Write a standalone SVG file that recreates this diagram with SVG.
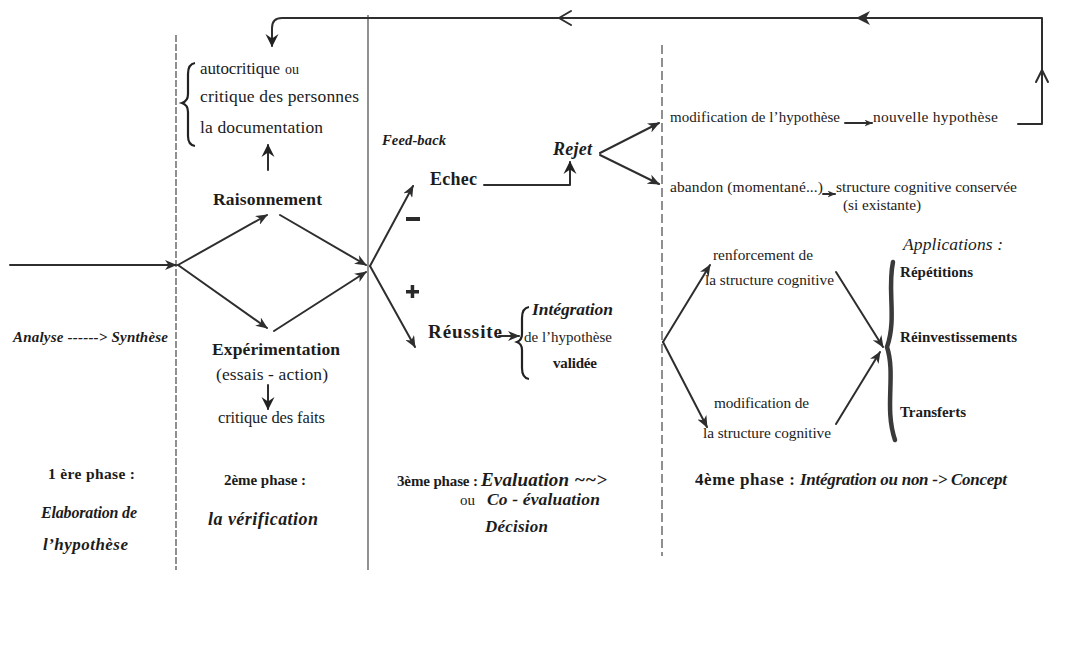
<svg xmlns="http://www.w3.org/2000/svg" width="1067" height="650" viewBox="0 0 1067 650">
  <style>
    text { font-family: "Liberation Serif", "DejaVu Serif", serif; fill: #1c1c1c; }
    .b { font-weight: bold; }
    .bi { font-weight: bold; font-style: italic; }
    .i { font-style: italic; }
    .ln { fill: none; stroke: #2e2e2e; stroke-width: 2; stroke-linecap: round; stroke-linejoin: round; }
    .arr { marker-end: url(#ah); }
    .arrb { marker-end: url(#ahb); }
    .div { fill: none; stroke: #555555; stroke-width: 1.3; }
  </style>
  <defs>
    <marker id="ah" viewBox="0 0 12 10" refX="11" refY="5" markerWidth="12" markerHeight="10" markerUnits="userSpaceOnUse" orient="auto">
      <path d="M0,0 L12,5 L0,10 L3.5,5 z" fill="#2e2e2e"/>
    </marker>
    <marker id="ahb" viewBox="0 0 12 12" refX="11" refY="6" markerWidth="13" markerHeight="14" markerUnits="userSpaceOnUse" orient="auto">
      <path d="M0,0 L12,6 L0,12 L4,6 z" fill="#222222"/>
    </marker>
    <marker id="ahs" viewBox="0 0 12 10" refX="11" refY="5" markerWidth="8" markerHeight="7" markerUnits="userSpaceOnUse" orient="auto">
      <path d="M0,0 L12,5 L0,10 L3.5,5 z" fill="#2e2e2e"/>
    </marker>
  </defs>

  <rect width="1067" height="650" fill="#ffffff"/>

  <!-- phase dividers -->
  <g id="dividers">
    <line class="div" x1="176" y1="35" x2="176" y2="570" stroke-dasharray="7 2"/>
    <line class="div" x1="368" y1="15" x2="368" y2="570"/>
    <line class="div" x1="662" y1="45" x2="662" y2="556" stroke-dasharray="9 4" stroke-width="1.6"/>
  </g>

  <!-- connectors -->
  <g id="connectors">
    <!-- feedback loop back to phase 2 -->
    <path class="ln arrb" d="M1018,124 H1042 V18 H282 Q272,18 272,28 V46"/>
    <path class="ln" d="M1036,82 L1042,70 L1048,82"/>
    <path class="ln" d="M571,11 L559,18 L571,25"/>
    <path d="M856,18 L870,11 L866,18 L870,25 z" fill="#2e2e2e"/>

    <!-- phase 1 -> phase 2 -->
    <path class="ln arr" d="M10,265 H176"/>
    <path class="ln arr" d="M178,265 L267,215"/>
    <path class="ln arr" d="M178,265 L267,328"/>
    <path class="ln arr" d="M280,215 L366,265"/>
    <path class="ln arr" d="M274,331 L366,272"/>
    <path class="ln arrb" d="M268,170 V145" stroke-width="2.6"/>
    <path class="ln arrb" d="M268,385 V409" stroke-width="2.6"/>

    <!-- phase 3 -->
    <path class="ln arr" d="M370,266 L413,186"/>
    <path class="ln arr" d="M370,266 L415,347"/>
    <path class="ln arrb" d="M484,185 H570 V162"/>
    <path class="ln arr" d="M600,153 L659,123"/>
    <path class="ln arr" d="M600,155 L659,184"/>
    <path class="ln arr" d="M499,336 H519"/>

    <!-- phase 4 -->
    <path class="ln" d="M845,123 H872" marker-end="url(#ahs)" stroke-width="1.5"/>
    <path class="ln" d="M823,194 H835" marker-end="url(#ahs)" stroke-width="1.5"/>
    <path class="ln arr" d="M663,342 L710,265"/>
    <path class="ln arr" d="M663,342 L707,427"/>
    <path class="ln arr" d="M836,272 L883,347"/>
    <path class="ln arr" d="M836,424 L880,352"/>
  </g>

  <!-- phase 2 : reasoning branch -->
  <g id="critique-personnes">
    <path d="M195,63 Q188,64 188,74 L188,94 Q188,101 182,103 Q188,105 188,112 L188,136 Q188,145 195,146" fill="none" stroke="#222" stroke-width="2.2"/>
    <text x="200" y="74" font-size="17" textLength="80">autocritique</text>
    <text x="285" y="74" font-size="14">ou</text>
    <text x="200" y="102" font-size="17.5" textLength="159">critique des personnes</text>
    <text x="200" y="133" font-size="17.5" textLength="123">la documentation</text>
  </g>
  <g id="raisonnement">
    <text class="b" x="213" y="205" font-size="17.5" textLength="109">Raisonnement</text>
  </g>
  <g id="experimentation">
    <text class="b" x="212" y="355" font-size="17.5" textLength="128">Expérimentation</text>
    <text x="216" y="380" font-size="17.5" textLength="112">(essais - action)</text>
  </g>
  <g id="critique-faits">
    <text x="218" y="423" font-size="16.5" textLength="107">critique des faits</text>
  </g>

  <!-- phase 1 -->
  <g id="analyse">
    <text class="bi" x="13" y="342" font-size="15" textLength="155">Analyse ------&gt; Synthèse</text>
  </g>

  <!-- phase 3 -->
  <g id="feedback">
    <text class="bi" x="382" y="145" font-size="14.5" textLength="64">Feed-back</text>
  </g>
  <g id="signes">
    <rect x="406" y="217" width="14" height="4" fill="#2a2a2a"/>
    <rect x="406" y="290" width="13" height="3.5" fill="#2a2a2a"/>
    <rect x="410.7" y="285" width="3.5" height="13" fill="#2a2a2a"/>
  </g>
  <g id="echec">
    <text class="b" x="430" y="185" font-size="18" textLength="47">Echec</text>
  </g>
  <g id="rejet">
    <text class="bi" x="553" y="155" font-size="18" textLength="39">Rejet</text>
  </g>
  <g id="reussite">
    <text class="b" x="428" y="338" font-size="19" textLength="74">Réussite</text>
  </g>
  <g id="integration-validee">
    <path d="M529,307 Q522,308 522,318 L522,334 Q522,340 517,342 Q522,344 522,350 L522,368 Q522,378 529,379" fill="none" stroke="#222" stroke-width="2.2"/>
    <text class="bi" x="532" y="315" font-size="17.5" textLength="81">Intégration</text>
    <text x="524" y="342" font-size="15" textLength="88">de l’hypothèse</text>
    <text class="b" x="553" y="368" font-size="15" textLength="44">validée</text>
  </g>

  <!-- phase 4 : rejection outcomes -->
  <g id="modification-hypothese">
    <text x="670" y="122" font-size="15" textLength="170">modification de l’hypothèse</text>
  </g>
  <g id="nouvelle-hypothese">
    <text x="873" y="122" font-size="15.5" textLength="125">nouvelle hypothèse</text>
  </g>
  <g id="abandon">
    <text x="670" y="192" font-size="15.5" textLength="153">abandon (momentané...)</text>
  </g>
  <g id="structure-conservee">
    <text x="836" y="192" font-size="15.5" textLength="181">structure cognitive conservée</text>
    <text x="843" y="210" font-size="15.3" textLength="78">(si existante)</text>
  </g>

  <!-- phase 4 : integration outcomes -->
  <g id="renforcement">
    <text x="713" y="260" font-size="15.3" textLength="100">renforcement de</text>
    <text x="705" y="285" font-size="15.3" textLength="129">la structure cognitive</text>
  </g>
  <g id="modification-structure">
    <text x="714" y="408" font-size="15.3" textLength="95">modification de</text>
    <text x="703" y="438" font-size="15.3" textLength="128">la structure cognitive</text>
  </g>
  <g id="applications">
    <path d="M893,262 C887,290 897,318 887,347 C896,375 884,408 895,440" fill="none" stroke="#3a3a3a" stroke-width="4.5" stroke-linecap="round"/>
    <text class="i" x="903" y="250" font-size="17.5" textLength="100">Applications :</text>
    <text class="b" x="900" y="277" font-size="15" textLength="73">Répétitions</text>
    <text class="b" x="900" y="342" font-size="15" textLength="117">Réinvestissements</text>
    <text class="b" x="900" y="417" font-size="15" textLength="66">Transferts</text>
  </g>

  <!-- phase captions -->
  <g id="phase-1">
    <text class="b" x="48" y="479" font-size="15.5" textLength="87">1 ère phase :</text>
    <text class="bi" x="41" y="518" font-size="16" textLength="96">Elaboration de</text>
    <text class="bi" x="43" y="550" font-size="17" textLength="85">l’hypothèse</text>
  </g>
  <g id="phase-2">
    <text class="b" x="224" y="485" font-size="15" textLength="82">2ème phase :</text>
    <text class="bi" x="208" y="525" font-size="18" textLength="110">la vérification</text>
  </g>
  <g id="phase-3">
    <text class="b" x="397" y="486" font-size="15" textLength="81">3ème phase :</text>
    <text class="bi" x="481" y="486" font-size="19" textLength="126">Evaluation  ~~&gt;</text>
    <text x="460" y="505" font-size="15">ou</text>
    <text class="bi" x="487" y="505" font-size="17.5" textLength="113">Co - évaluation</text>
    <text class="bi" x="485" y="532" font-size="17" textLength="63">Décision</text>
  </g>
  <g id="phase-4">
    <text class="b" x="695" y="485" font-size="17" textLength="100">4ème phase :</text>
    <text class="bi" x="800" y="485" font-size="17" textLength="207">Intégration ou non -&gt; Concept</text>
  </g>
</svg>
